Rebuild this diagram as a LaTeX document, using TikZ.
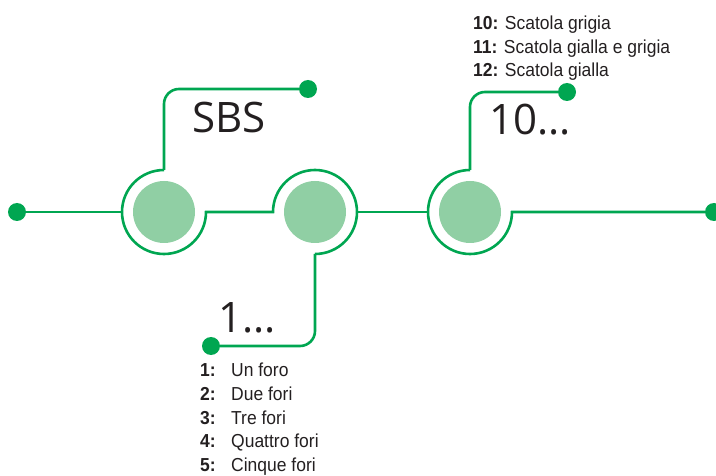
\documentclass[tikz,border=0pt]{standalone}
\usepackage{fontspec}
\setmainfont{Liberation Sans}
\newfontfamily\tagfont{Open Sans}
\newfontfamily\listfont[FakeStretch=0.93]{Liberation Sans}
\usetikzlibrary{positioning}

\newcommand{\itemno}[1]{\makebox[31pt][l]{\textbf{#1}}}

\begin{document}
\begin{tikzpicture}[x=1pt, y=1pt,
  line/.style={draw=cgreen, line width=2.6pt},
  hub/.style={circle, fill=clight, minimum size=62pt, inner sep=0pt},
  dot/.style={circle, fill=cgreen, minimum size=18pt, inner sep=0pt},
  tag/.style={font=\tagfont\fontsize{42}{42}\selectfont, text=ctext, inner sep=0pt},
  list/.style={font=\listfont\fontsize{18.8}{23.5}\selectfont, text=ctext, inner sep=0pt},
]
\definecolor{cgreen}{HTML}{00A651}
\definecolor{clight}{HTML}{90CFA4}
\definecolor{ctext}{HTML}{231F20}
\useasboundingbox (0,0) rectangle (716,-476);
\node[hub] (h1) at (164,-212) {};
\node[hub] (h2) at (315,-212) {};
\node[hub] (h3) at (470,-212) {};
\node[dot] (d0) at (17,-212) {};
\node[dot] (d1) at (308,-89) {};
\node[dot] (d2) at (211,-346) {};
\node[dot] (d3) at (567,-92) {};
\node[dot] (d4) at (714,-212) {};
\draw[line] (d0) -- ([xshift=-42pt]h1.center);
\draw[line] ([yshift=42pt]h1.center) arc[start angle=90, end angle=360, radius=42]
  -- ([xshift=-42pt]h2.center) arc[start angle=180, end angle=-90, radius=42];
\draw[line] ([xshift=42pt]h2.center) -- ([xshift=-42pt]h3.center);
\draw[line] ([yshift=42pt]h3.center) arc[start angle=90, end angle=360, radius=42] -- (d4);
\draw[line, rounded corners=15pt] ([yshift=42pt]h1.center) |- (d1);
\draw[line, rounded corners=15pt] ([yshift=-42pt]h2.center) |- (d2);
\draw[line, rounded corners=15pt] ([yshift=42pt]h3.center) |- (d3);
\node[tag, anchor=base west] (sbs) at (192,-133) {SBS};
\node[tag, anchor=base west] (one) at (218,-333) {1...};
\node[tag, anchor=base west] (ten) at (489,-135) {10...};
\node[list, anchor=base west] (t1) at (473,-30) {\textbf{10:} Scatola grigia};
\node[list, anchor=base west] (t2) at (473,-53.5) {\textbf{11:} Scatola gialla e grigia};
\node[list, anchor=base west] (t3) at (473,-77) {\textbf{12:} Scatola gialla};
\node[list, anchor=base west] (b1) at (200,-377) {\itemno{1:}Un foro};
\node[list, anchor=base west] (b2) at (200,-400.5) {\itemno{2:}Due fori};
\node[list, anchor=base west] (b3) at (200,-424) {\itemno{3:}Tre fori};
\node[list, anchor=base west] (b4) at (200,-447.5) {\itemno{4:}Quattro fori};
\node[list, anchor=base west] (b5) at (200,-471) {\itemno{5:}Cinque fori};
\end{tikzpicture}
\end{document}
